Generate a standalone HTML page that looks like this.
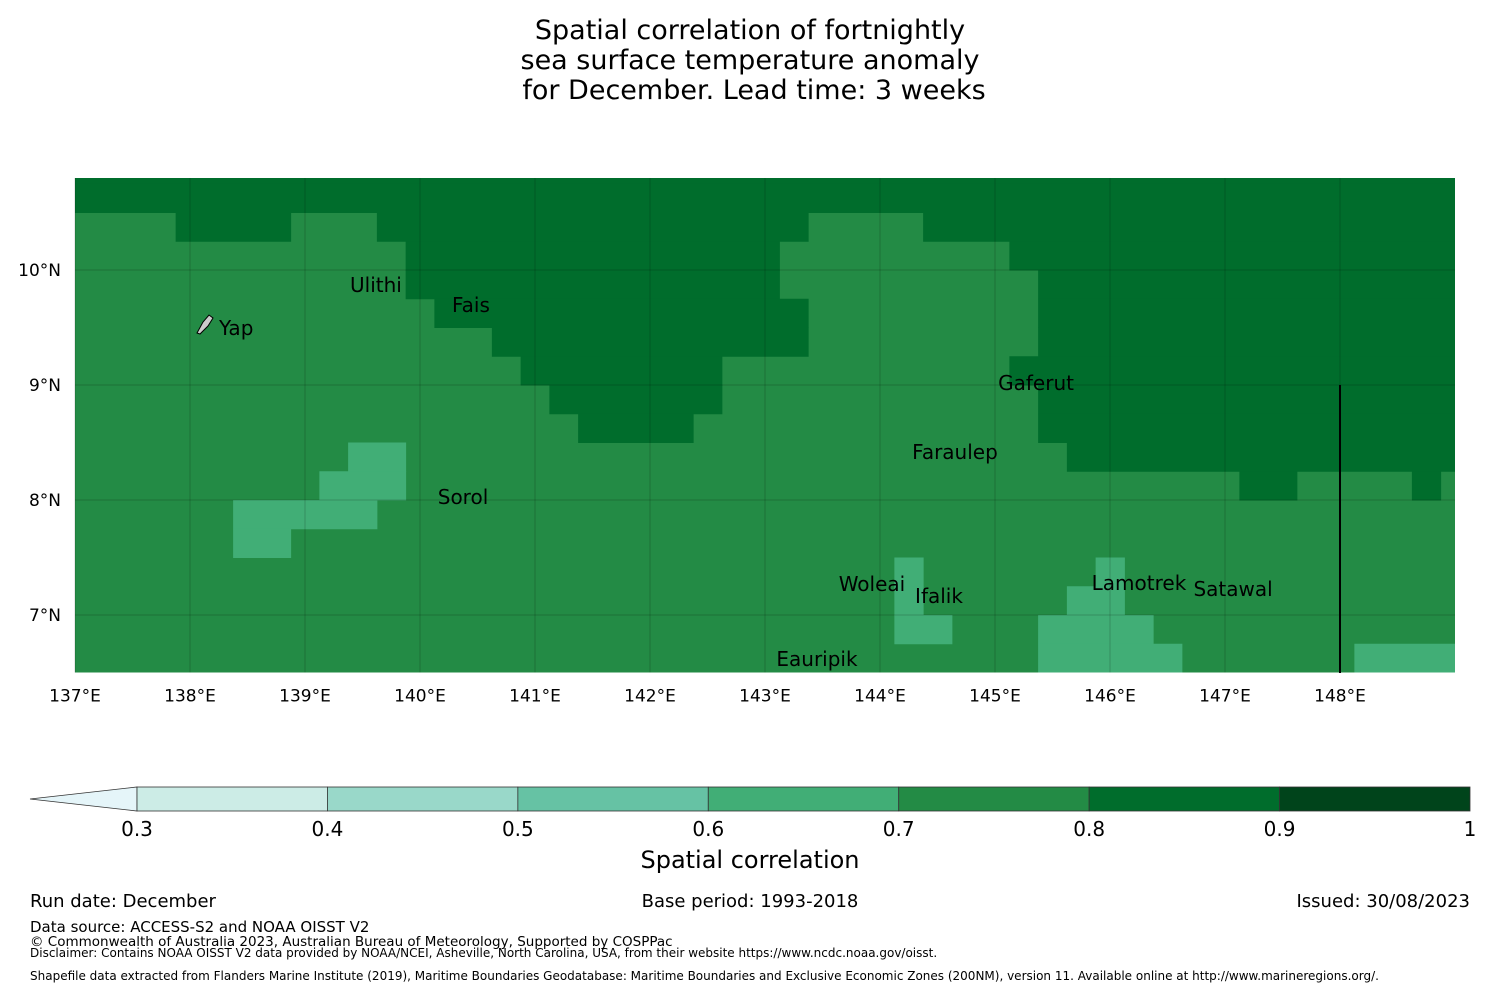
<!DOCTYPE html>
<html><head><meta charset="utf-8">
<style>
body{margin:0;background:#fff;font-family:"Liberation Sans","DejaVu Sans",sans-serif;}
#wrap{position:relative;width:1500px;height:990px;overflow:hidden;}
svg text{font-family:"DejaVu Sans","Liberation Sans",sans-serif;}
</style></head><body>
<div id="wrap">
<svg id="svg" width="1500" height="990" viewBox="0 0 1500 990">
<g font-size="27" text-anchor="middle" fill="#000">
<text x="750" y="39">Spatial correlation of fortnightly</text>
<text x="750" y="69">sea surface temperature anomaly</text>
<text x="754" y="99">for December. Lead time: 3 weeks</text>
</g>
<g id="cells"></g>
<g id="grid"></g>
<line x1="1340" y1="385" x2="1340" y2="673" stroke="#000" stroke-width="2"/>
<g id="labels" font-size="20" fill="#000"></g>
<path d="M197,333 L203,322 L209,315 L213,318 L208,326 L200,334 Z" fill="#ccc" stroke="#000" stroke-width="1"/>
<g id="axes" font-size="17" fill="#000"></g>
<g id="cbar"></g>
<text x="750" y="868" font-size="24" text-anchor="middle">Spatial correlation</text>
<g font-size="18">
<text x="30" y="907">Run date: December</text>
<text x="750" y="907" text-anchor="middle">Base period: 1993-2018</text>
<text x="1470" y="907" text-anchor="end">Issued: 30/08/2023</text>
<text x="30" y="932" font-size="15">Data source: ACCESS-S2 and NOAA OISST V2</text>
<text x="30" y="946" font-size="13.5">© Commonwealth of Australia 2023, Australian Bureau of Meteorology, Supported by COSPPac</text>
<text x="30" y="957" font-size="12">Disclaimer: Contains NOAA OISST V2 data provided by NOAA/NCEI, Asheville, North Carolina, USA, from their website https://www.ncdc.noaa.gov/oisst.</text>
<text x="30" y="980" font-size="12">Shapefile data extracted from Flanders Marine Institute (2019), Maritime Boundaries Geodatabase: Maritime Boundaries and Exclusive Economic Zones (200NM), version 11. Available online at http://www.marineregions.org/.</text>
</g>
</svg>
</div>
<script>
const lonMin = 137, lonMax = 149, latMin = 6.5, latMax = 10.8;
const defaultValue = 0.75;
const darkRegions = [[0,0,49],[1,0,49],[2,4,8],[2,11,26],[2,30,49],[3,12,25],[3,33,49],[4,12,25],[4,34,49],[5,13,26],[5,34,49],[6,15,26],[6,34,49],[7,16,23],[7,33,49],[8,17,23],[8,34,49],[9,18,22],[9,34,49],[10,35,49],[11,41,43],[11,47,48]];
const darkValue = 0.85;
const lightRegions = [[10,10,12],[11,9,12],[12,6,11],[13,6,8],[14,29,30],[14,36,37],[15,29,30],[15,35,37],[16,29,31],[16,34,38],[17,34,39],[17,45,49]];
const lightValue = 0.65;
const levels = [0.3,0.4,0.5,0.6,0.7,0.8,0.9,1.0];
const levelColors = ["#ccece6","#99d8c9","#66c2a4","#41ae76","#238b45","#006d2c","#00441b"];
const lonTicks = [137,138,139,140,141,142,143,144,145,146,147,148];
const latTicks = [10,9,8,7];
const islands = [["Ulithi",139.617,9.870],["Fais",140.443,9.696],["Yap",138.252,9.496],["Gaferut",145.357,9.017],["Faraulep",144.652,8.417],["Sorol",140.374,8.026],["Woleai",143.930,7.270],["Ifalik",144.513,7.165],["Lamotrek",146.252,7.278],["Satawal",147.070,7.226],["Eauripik",143.452,6.617]];

const X0=75, Y10=270, S=115;
const xs = lon => X0 + (lon-lonMin)*S;
const ys = lat => Y10 - (lat-10)*S;
const NS='http://www.w3.org/2000/svg';
function mk(tag, attrs, parent){const e=document.createElementNS(NS,tag);for(const k in attrs)e.setAttribute(k,attrs[k]);parent.appendChild(e);return e;}
function colorFor(v){for(let i=0;i<levelColors.length;i++){if(v<levels[i+1])return levelColors[i];}return levelColors[levelColors.length-1];}
const cells=document.getElementById('cells');
const mapL=xs(lonMin), mapR=xs(lonMax), mapT=ys(latMax), mapB=ys(latMin);
const bg=mk('rect',{x:mapL,y:mapT,width:mapR-mapL,height:mapB-mapT,fill:colorFor(defaultValue)},cells);


function drawRegions(regs,val,name){
  regs.forEach(r=>{
    const latT=11-0.25*r[0], latB=latT-0.25;
    const lonL=136.875+0.25*r[1], lonR=136.875+0.25*r[2];
    const x1=Math.max(xs(lonL),mapL), x2=Math.min(xs(lonR),mapR);
    const y1=Math.max(ys(latT),mapT), y2=Math.min(ys(latB),mapB);
    if(x2<=x1||y2<=y1)return;
    const e=mk('rect',{x:x1,y:y1,width:Math.min(x2-x1+0.5,mapR-x1),height:Math.min(y2-y1+0.5,mapB-y1),fill:colorFor(val)},cells);
    
    
  });
}
drawRegions(darkRegions,darkValue,'cell-high');
drawRegions(lightRegions,lightValue,'cell-low');
const grid=document.getElementById('grid'), axes=document.getElementById('axes');
lonTicks.forEach(l=>{
  const g=mk('line',{x1:xs(l),x2:xs(l),y1:mapT,y2:mapB,stroke:'#000','stroke-opacity':0.18,'stroke-width':1},grid);
  
  
  const t=mk('text',{x:xs(l),y:mapB+29,'text-anchor':'middle'},axes);t.textContent=l+'°E';
  
  
});
latTicks.forEach(l=>{
  const g=mk('line',{x1:mapL,x2:mapR,y1:ys(l),y2:ys(l),stroke:'#000','stroke-opacity':0.18,'stroke-width':1},grid);
  
  
  const t=mk('text',{x:61,y:ys(l)+6,'text-anchor':'end'},axes);t.textContent=l+'°N';
  
  
});
const labels=document.getElementById('labels');
islands.forEach(s=>{
  const t=mk('text',{x:xs(s[1]),y:ys(s[2])+7,'text-anchor':s[0]==='Yap'?'start':'middle'},labels);
  t.textContent=s[0];
  
  
});
const cb=document.getElementById('cbar');
const cbX0=137, cbX1=1470, cbY=787, cbH=24;
const cx=v=>cbX0+(v-levels[0])/(levels[levels.length-1]-levels[0])*(cbX1-cbX0);
const tri=mk('polygon',{points:`30,${cbY+cbH/2} ${cbX0},${cbY} ${cbX0},${cbY+cbH}`,fill:'#e5f5f9',stroke:'#333','stroke-width':0.8},cb);


levelColors.forEach((c,i)=>{
  const r=mk('rect',{x:cx(levels[i]),y:cbY,width:cx(levels[i+1])-cx(levels[i]),height:cbH,fill:c,stroke:'#333','stroke-width':0.8},cb);
  
  
});
levels.forEach(v=>{
  const t=mk('text',{x:cx(v),y:cbY+cbH+25,'text-anchor':'middle','font-size':20},cb);
  t.textContent=(v===1?'1':v.toFixed(1));
  
  
});
</script>
</body></html>
